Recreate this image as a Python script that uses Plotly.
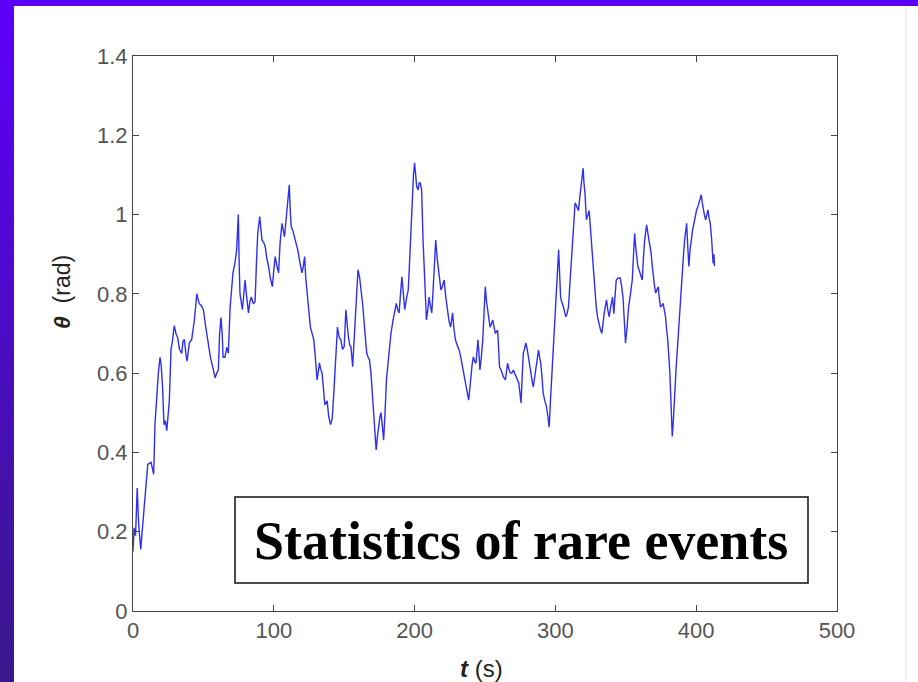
import plotly.graph_objects as go

# ---- data ----
t_s = [0, 0.8, 1.8, 3, 4, 5.5, 6.5, 7.8, 9, 10.5, 12.8, 14.7, 15.6, 17, 18, 19.2, 20, 21, 22, 23, 24, 25.8, 27, 28, 29.3, 30.5, 31.7, 33, 34.6, 35.5, 36.5, 37.5, 38.4, 40, 41.7, 43.6, 45.3, 46, 47, 48.5, 50, 51.5, 53, 55, 56.6, 58.3, 59.5, 60.6, 61.5, 62.5, 63.3, 64, 65.3, 66.6,
       67.7, 69, 71, 72.5, 73.6, 74.8, 75.5, 76, 77.7, 78.6, 79.6, 80.8, 82, 83, 84, 85.5, 86.7, 87.7, 88.6, 90, 91.6, 92.8, 93.9, 95, 96.3, 97.5, 99, 100, 101, 102.2, 103.4, 104.5, 105.8, 107.6, 109.3, 111, 111.8, 112.4, 113.5, 114.8, 116, 117, 118.5, 120, 121, 121.9, 122.7, 123.5, 124.8, 126, 127.2, 128.4, 129.5, 130.7, 131.5, 132.4, 133.3, 134.3, 135.3, 136.2, 137.9, 139, 140.3, 141.5,
       142.8, 144, 145.2, 146.4, 147.6, 148.8, 150, 151.2, 152, 153, 154, 154.8, 156, 157.2, 158.4, 159.8, 161, 162, 163.2, 164.4, 165.2, 166, 167, 168, 169, 170.3, 171.5, 172.7, 173.6, 174.6, 175.4, 176.2, 177, 178, 179, 180, 181, 181.8, 183.2, 184.7, 186, 187, 188, 189, 190, 191, 192, 193, 194.3, 195.5, 196.3, 197, 197.8, 198.5, 199.2, 200, 200.8, 201.5, 202.5, 203.2, 204,
       205, 206, 207.4, 208.4, 209.4, 210.3, 211.2, 212.2, 213, 213.8, 215, 216, 217, 217.8, 218.7, 219.8, 221, 222.2, 223.4, 224.5, 225.6, 226.3, 227, 228, 229, 230.3, 231.7, 232.8, 234, 235.2, 236.5, 237.5, 238.4, 239.2, 240, 240.8, 241.7, 242.6, 243.6, 244.3, 245, 245.7, 246.4, 247.4, 248.4, 249.3, 250.2, 251.1, 252, 252.8, 253.6, 254.6, 255.5, 256.5, 257.4, 258.2, 259, 259.7, 260.3, 261.2, 262, 263.2, 264.5, 265.2, 266, 267, 268, 269, 270.2, 271, 272,
       273, 274, 274.8, 275.6, 276.4, 277.2, 278, 279, 280, 281, 281.8, 282.6, 283.5, 284.3, 285.2, 286, 287, 288, 288.8, 289.6, 290.5, 291.3, 292.5, 293.7, 294.7, 295.6, 296.5, 297.5, 298.3, 299, 300, 301, 301.7, 302.3, 303, 303.7, 304.4, 305, 306.2, 307.4, 308.3, 309.3, 310.2, 311, 311.8, 312.7, 313.4, 314, 315.2, 316.4, 317.2, 318, 318.9, 319.7, 320.3, 321, 322, 323, 324, 325, 326, 326.8, 327.6, 328.3, 329, 330, 331.2, 332, 333, 333.8, 334.7, 335.5, 336.3, 337.2, 338.2, 339.4, 340.6, 341.5, 342.3, 343.2,
       344.5, 346, 347, 348, 349, 349.8, 351, 352, 353.3, 354.6, 355.5, 356.3, 357, 357.6, 358.5, 359.4, 360.5, 361.7, 362.5, 363.4, 364.8, 365.6, 366.4, 367.2, 368, 368.8, 369.6, 370.4, 371.2, 372, 373, 373.8, 374.6, 375.5, 376.5, 377.3, 378.2, 379, 379.8, 380.6, 381.3, 382.2, 383, 383.6, 384.2, 385, 385.8, 386.8, 387.7, 389, 390, 391, 391.8, 392.5, 393.2, 394, 394.8, 395.6, 396.5, 397.4, 398.4, 399.4, 400.3, 401.2, 402, 402.8, 403.6, 404.3, 405, 405.8, 406.7, 407.5, 408.4, 409.2, 410, 411, 412, 412.6, 413]

theta_rad = [0.15, 0.21, 0.19, 0.31, 0.22, 0.155, 0.2, 0.26, 0.30, 0.37, 0.375, 0.345, 0.47, 0.565, 0.60, 0.64, 0.62, 0.565, 0.47, 0.48, 0.455, 0.53, 0.66, 0.68, 0.72, 0.70, 0.69, 0.66, 0.65, 0.68, 0.685, 0.65, 0.63, 0.676, 0.685, 0.734, 0.80, 0.79, 0.776, 0.77, 0.76, 0.72, 0.684, 0.64, 0.616, 0.588, 0.60, 0.608, 0.70, 0.74, 0.70, 0.64, 0.64, 0.665,
             0.65, 0.767, 0.853, 0.88, 0.911, 1.0, 0.86, 0.80, 0.76, 0.80, 0.835, 0.79, 0.752, 0.78, 0.792, 0.775, 0.78, 0.88, 0.953, 0.995, 0.936, 0.93, 0.919, 0.89, 0.869, 0.84, 0.818, 0.86, 0.894, 0.87, 0.853, 0.93, 0.978, 0.944, 1.003, 1.075, 1.0, 0.969, 0.96, 0.944, 0.93, 0.911, 0.88, 0.853, 0.87, 0.894, 0.84, 0.802, 0.76, 0.716, 0.70, 0.684, 0.64, 0.583, 0.60, 0.626, 0.61, 0.60, 0.56, 0.52, 0.53, 0.49, 0.47, 0.485,
             0.56, 0.64, 0.716, 0.69, 0.684, 0.66, 0.667, 0.76, 0.72, 0.69, 0.67, 0.667, 0.616, 0.70, 0.776, 0.861, 0.84, 0.81, 0.77, 0.716, 0.68, 0.65, 0.64, 0.633, 0.60, 0.532, 0.448, 0.406, 0.44, 0.474, 0.49, 0.50, 0.47, 0.431, 0.50, 0.583, 0.62, 0.65, 0.70, 0.734, 0.76, 0.776, 0.76, 0.752, 0.80, 0.843, 0.80, 0.76, 0.79, 0.81, 0.87, 0.936, 1.0, 1.062, 1.10, 1.13, 1.10, 1.07, 1.062, 1.08, 1.08,
             1.062, 0.936, 0.835, 0.734, 0.76, 0.792, 0.77, 0.752, 0.80, 0.853, 0.936, 0.89, 0.86, 0.83, 0.81, 0.82, 0.835, 0.79, 0.752, 0.73, 0.716, 0.74, 0.752, 0.71, 0.684, 0.67, 0.658, 0.64, 0.616, 0.59, 0.565, 0.55, 0.532, 0.56, 0.60, 0.62, 0.641, 0.63, 0.625, 0.66, 0.684, 0.65, 0.608, 0.64, 0.684, 0.75, 0.818, 0.78, 0.752, 0.73, 0.716, 0.725, 0.734, 0.715, 0.70, 0.705, 0.708, 0.66, 0.616, 0.61, 0.60, 0.59, 0.583, 0.60, 0.625, 0.61, 0.60, 0.60, 0.608, 0.60, 0.59,
             0.585, 0.575, 0.55, 0.525, 0.59, 0.65, 0.66, 0.676, 0.66, 0.633, 0.62, 0.60, 0.58, 0.565, 0.59, 0.616, 0.64, 0.658, 0.64, 0.625, 0.59, 0.55, 0.53, 0.515, 0.49, 0.464, 0.53, 0.60, 0.66, 0.716, 0.78, 0.835, 0.87, 0.911, 0.85, 0.792, 0.78, 0.776, 0.76, 0.742, 0.75, 0.767, 0.82, 0.869, 0.92, 0.978, 1.0, 1.03, 1.02, 1.01, 1.04, 1.07, 1.09, 1.117, 1.08, 1.054, 0.987, 1.0, 1.01, 0.96, 0.911, 0.87, 0.827, 0.80, 0.767, 0.74, 0.716, 0.71, 0.70, 0.73, 0.752, 0.77, 0.785, 0.76, 0.742, 0.77, 0.792, 0.75, 0.80, 0.835,
             0.84, 0.84, 0.82, 0.792, 0.73, 0.676, 0.72, 0.767, 0.80, 0.835, 0.90, 0.953, 0.92, 0.894, 0.87, 0.861, 0.85, 0.835, 0.89, 0.936, 0.974, 0.95, 0.936, 0.92, 0.902, 0.87, 0.835, 0.82, 0.802, 0.81, 0.818, 0.79, 0.767, 0.77, 0.776, 0.76, 0.742, 0.71, 0.684, 0.64, 0.60, 0.515, 0.44, 0.47, 0.515, 0.57, 0.616, 0.67, 0.726, 0.79, 0.853, 0.90, 0.936, 0.96, 0.978, 0.92, 0.869, 0.91, 0.944, 0.96, 0.978, 1.0, 1.012, 1.02, 1.03, 1.04, 1.05, 1.03, 1.012, 1.0, 0.987, 1.0, 1.012, 0.99, 0.978, 0.936, 0.877, 0.90, 0.87]

x_ticks = [0, 100, 200, 300, 400, 500]
x_tick_labels = ["0", "100", "200", "300", "400", "500"]
y_ticks = [0, 0.2, 0.4, 0.6, 0.8, 1.0, 1.2, 1.4]
y_tick_labels = ["0", "0.2", "0.4", "0.6", "0.8", "1", "1.2", "1.4"]
box_text = "Statistics of rare events"

# ---- figure ----
W, H = 918, 682
L, R, T, B = 133, 81, 56, 71
pw, ph = W - L - R, H - T - B


def px(X):
    return (X - L) / pw


def py(Y):
    return (H - B - Y) / ph


fig = go.Figure()
fig.add_trace(go.Scatter(x=t_s, y=theta_rad, mode="lines",
                         line=dict(color="#2f2ff2", width=1.4),
                         showlegend=False, hoverinfo="skip"))

axis_common = dict(showline=True, linecolor="#444444", linewidth=1, mirror="ticks",
                   ticks="inside", ticklen=6, tickcolor="#444444", showgrid=False,
                   zeroline=False,
                   tickfont=dict(family="Liberation Sans, Arial", size=22, color="#555555"))

fig.update_xaxes(range=[0, 500], tickvals=x_ticks, ticktext=x_tick_labels, **axis_common)
fig.update_yaxes(range=[0, 1.4], tickvals=y_ticks, ticktext=y_tick_labels, **axis_common)

shapes = []
# purple frame: left gradient strip (overlapping bands) and top bar
n = 34
c0 = (92, 0, 250)
c1 = (58, 24, 140)
for i in range(n):
    f = i / (n - 1)
    col = "rgb(%d,%d,%d)" % tuple(int(round(a + (b - a) * f)) for a, b in zip(c0, c1))
    y_top = (H) * i / n
    y_bot = (H) * (i + 1) / n + 3
    shapes.append(dict(type="rect", xref="paper", yref="paper", layer="above",
                       x0=px(-2), x1=px(14), y0=py(min(y_bot, H + 2)), y1=py(y_top),
                       fillcolor=col, line=dict(width=0)))
shapes.append(dict(type="rect", xref="paper", yref="paper", layer="above",
                   x0=px(-2), x1=px(W + 2), y0=py(6), y1=py(-2),
                   fillcolor="#5a00f5", line=dict(width=0)))
# faint right edge of the slide panel
shapes.append(dict(type="line", xref="paper", yref="paper", layer="above",
                   x0=px(906), x1=px(906), y0=py(H), y1=py(6),
                   line=dict(color="#e4e4e4", width=1)))
# text box
shapes.append(dict(type="rect", xref="paper", yref="paper", layer="above",
                   x0=px(235), x1=px(808), y0=py(583), y1=py(497),
                   fillcolor="white", line=dict(color="#111111", width=1.5)))

annotations = [
    dict(text="<b>" + box_text + "</b>", xref="paper", yref="paper",
         x=px(521), y=py(541), xanchor="center", yanchor="middle", showarrow=False,
         font=dict(family="Liberation Serif, Times New Roman", size=54, color="#000000")),
    dict(text="<b><i>t</i></b> (s)", xref="paper", yref="paper",
         x=px(481), y=py(668), xanchor="center", yanchor="middle", showarrow=False,
         font=dict(family="Liberation Sans, Arial", size=24, color="#222222")),
    dict(text="<b><i>θ</i></b>  (rad)", xref="paper", yref="paper", textangle=-90,
         x=px(62), y=py(292), xanchor="center", yanchor="middle", showarrow=False,
         font=dict(family="Liberation Sans, Arial", size=23, color="#222222")),
]

fig.update_layout(width=W, height=H, margin=dict(l=L, r=R, t=T, b=B),
                  paper_bgcolor="white", plot_bgcolor="white",
                  shapes=shapes, annotations=annotations, showlegend=False)

fig.write_html("out.html", config={"displayModeBar": False},
               post_script="document.body.style.margin='0';document.body.style.padding='0';")
